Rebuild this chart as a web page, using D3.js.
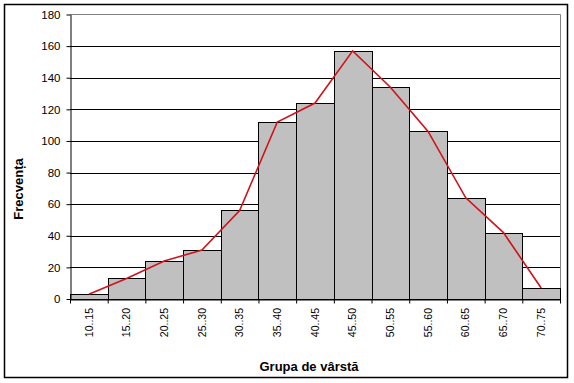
<!DOCTYPE html>
<html>
<head>
<meta charset="utf-8">
<script src="https://cdn.jsdelivr.net/npm/d3@7"></script>
<style>
  body { margin: 0; background: #fff; }
  svg { display: block; font-family: "Liberation Sans", Arial, sans-serif; }
</style>
</head>
<body>
<div id="chart"></div>
<script>
// Age groups and frequencies
const categories = ["10..15", "15..20", "20..25", "25..30", "30..35", "35..40", "40..45",
                    "45..50", "50..55", "55..60", "60..65", "65..70", "70..75"];
const frequency = [3, 13, 24, 31, 56, 112, 124, 157, 134, 106, 64, 42, 7];
const yTicks = [0, 20, 40, 60, 80, 100, 120, 140, 160, 180];

const width = 574;
const height = 383;
const plot = { left: 70, right: 560, top: 14.5, bottom: 299 };

const svg = d3.select("#chart")
    .append("svg")
    .attr("width", width)
    .attr("height", height);

// outer chart border
svg.append("rect")
    .attr("x", 4.5).attr("y", 4.5)
    .attr("width", 563).attr("height", 373)
    .attr("fill", "#fff")
    .attr("stroke", "#000")
    .attr("stroke-width", 1.5);

const x = d3.scaleBand()
    .domain(categories)
    .range([plot.left, plot.right])
    .padding(0);

const xEdges = d3.scaleLinear()
    .domain([0, categories.length])
    .range([plot.left, plot.right]);

const y = d3.scaleLinear()
    .domain([0, 180])
    .range([plot.bottom, plot.top]);

// gridlines
svg.append("g")
    .selectAll("line")
    .data(yTicks.filter(d => d > 0 && d < 180))
    .enter()
    .append("line")
    .attr("x1", plot.left).attr("x2", plot.right)
    .attr("y1", d => Math.round(y(d)) + 0.5)
    .attr("y2", d => Math.round(y(d)) + 0.5)
    .attr("stroke", "#000");

// plot area border (top and right, gray)
svg.append("path")
    .attr("d", `M${plot.left},${plot.top}H${plot.right + 0.5}V${plot.bottom}`)
    .attr("fill", "none")
    .attr("stroke", "#808080");

// bars
svg.append("g")
    .selectAll("rect")
    .data(frequency)
    .enter()
    .append("rect")
    .attr("x", (d, i) => Math.round(x(categories[i])) + 0.5)
    .attr("y", d => Math.round(y(d)) + 0.5)
    .attr("width", (d, i) => Math.round(x(categories[i]) + x.bandwidth()) - Math.round(x(categories[i])))
    .attr("height", d => Math.round(plot.bottom) - Math.round(y(d)))
    .attr("fill", "#c0c0c0")
    .attr("stroke", "#000");

// frequency polygon
const line = d3.line()
    .x((d, i) => x(categories[i]) + x.bandwidth() / 2)
    .y(d => y(d));

svg.append("path")
    .datum(frequency)
    .attr("d", line)
    .attr("fill", "none")
    .attr("stroke", "#d0121a")
    .attr("stroke-width", 1.6);

// y axis
const yAxis = svg.append("g")
    .attr("transform", `translate(${plot.left + 0.5},0)`)
    .call(d3.axisLeft(y).tickValues(yTicks).tickSize(4).tickPadding(6).tickSizeOuter(0));
yAxis.select(".domain").attr("stroke", "#000");
yAxis.selectAll("text")
    .style("font-size", "11.5px")
    .attr("fill", "#000");

// x axis: ticks at group boundaries
const xAxis = svg.append("g")
    .attr("transform", `translate(0,${plot.bottom + 0.5})`)
    .call(d3.axisBottom(xEdges).tickValues(d3.range(categories.length + 1))
        .tickFormat("").tickSize(4).tickSizeOuter(0));
xAxis.select(".domain").attr("stroke", "#000");

// rotated category labels
svg.append("g")
    .selectAll("text")
    .data(categories)
    .enter()
    .append("text")
    .attr("transform", d => `translate(${x(d) + x.bandwidth() / 2},308) rotate(-90)`)
    .attr("text-anchor", "end")
    .attr("dy", "0.35em")
    .style("font-size", "10.5px")
    .text(d => d);

// axis titles
svg.append("text")
    .attr("x", 309)
    .attr("y", 371)
    .attr("text-anchor", "middle")
    .style("font-size", "13px")
    .style("font-weight", "bold")
    .text("Grupa de vârstă");

svg.append("text")
    .attr("transform", "translate(23,189) rotate(-90)")
    .attr("text-anchor", "middle")
    .style("font-size", "13px")
    .style("font-weight", "bold")
    .text("Frecvența");
</script>
</body>
</html>
